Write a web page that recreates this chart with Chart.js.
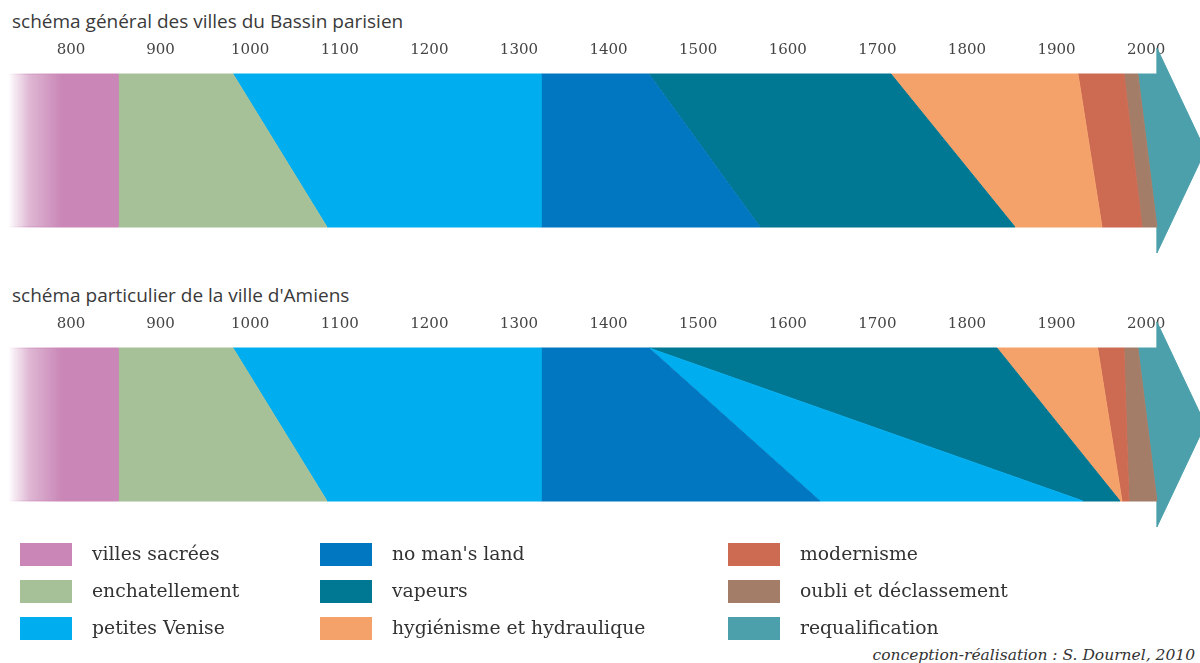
<!DOCTYPE html>
<html>
<head>
<meta charset="utf-8">
<script src="https://cdn.jsdelivr.net/npm/chart.js@4/dist/chart.umd.min.js"></script>
<style>
  html, body { margin: 0; padding: 0; background: #fff; }
  #page { position: relative; width: 1200px; height: 663px; overflow: hidden; }
  canvas { position: absolute; left: 0; }
  .title { position: absolute; left: 12px; font: 19px/19px "Open Sans", sans-serif; color: #3a3a3a; white-space: nowrap; }
  .sw { position: absolute; width: 52px; height: 23px; }
  .lab { position: absolute; font: 18.8px/18.8px "DejaVu Serif", serif; color: #333; white-space: nowrap; }
  #credit { position: absolute; right: 5px; top: 648px; font: italic 15.5px/15.5px "DejaVu Serif", serif; color: #333; }
</style>
</head>
<body>
<div id="page">
  <div class="title" style="top:12px">schéma général des villes du Bassin parisien</div>
  <canvas id="paris" width="1200" height="275" style="top:0"></canvas>
  <div class="title" style="top:286px">schéma particulier de la ville d'Amiens</div>
  <canvas id="amiens" width="1200" height="275" style="top:274px"></canvas>
  <div id="legend"></div>
  <div id="credit">conception-réalisation : S. Dournel, 2010</div>
</div>
<script>
// graduations (années)
const yearTicks = [800, 900, 1000, 1100, 1200, 1300, 1400, 1500, 1600, 1700, 1800, 1900, 2000];

// phases de la légende
const phaseNames = ['villes sacrées', 'enchatellement', 'petites Venise', "no man's land", 'vapeurs',
  'hygiénisme et hydraulique', 'modernisme', 'oubli et déclassement', 'requalification'];
const phaseColors = ['#c986b6', '#a6c197', '#00aeef', '#0077c0', '#007793',
  '#f5a26a', '#cc6a52', '#a37d68', '#4ca0ab'];

// Bassin parisien : limites des phases en haut et en bas de la bande
const parisPhases = [0, 1, 2, 3, 4, 5, 6, 7, 8];
const parisTop = [730, 852.5, 980.8, 1324.6, 1445.1, 1715.2, 1923.9, 1975.2, 1990.8, 2012];
const parisBottom = [730, 852.5, 1085.7, 1324.6, 1569, 1853.6, 1950.7, 1995.3, 2012, 2012];

// Amiens : les petites Venise reviennent apres le no man's land
const amiensPhases = [0, 1, 2, 3, 2, 4, 5, 6, 7, 8];
const amiensTop = [730, 852.5, 980.8, 1324.6, 1445.1, 1445.1, 1833.5, 1945.8, 1975.2, 1990.8, 2012];
const amiensBottom = [730, 852.5, 1085.7, 1324.6, 1635.9, 1929.5, 1970.8, 1973, 1980.8, 2012, 2012];

// fondu des villes sacrées, flèche finale
const fadeYears = [730, 790];
const arrowYears = [2012, 2066];
const arrowSpan = [-0.17, 1.17];

const pinkFade = (context) => {
  const chart = context.chart;
  if (!chart.chartArea) return phaseColors[0];
  const x = chart.scales.x;
  const g = chart.ctx.createLinearGradient(x.getPixelForValue(fadeYears[0]), 0, x.getPixelForValue(fadeYears[1]), 0);
  g.addColorStop(0, 'rgba(201,134,182,0)');
  g.addColorStop(0.4, 'rgba(201,134,182,0.6)');
  g.addColorStop(1, phaseColors[0]);
  return g;
};

const buildDatasets = (phases, tops, bottoms) => {
  return phases.map((cat, i) => {
    const pts = [
      { x: tops[i], y: 1 },
      { x: tops[i + 1], y: 1 }
    ];
    if (cat === 8 && i === phases.length - 1) {
      pts.push({ x: arrowYears[0], y: arrowSpan[1] });
      pts.push({ x: arrowYears[1], y: 0.5 });
      pts.push({ x: arrowYears[0], y: arrowSpan[0] });
    }
    pts.push({ x: bottoms[i + 1], y: 0 });
    pts.push({ x: bottoms[i], y: 0 });
    const color = cat === 0 ? pinkFade : phaseColors[cat];
    return {
      label: phaseNames[cat],
      data: pts,
      showLine: true,
      fill: 'shape',
      backgroundColor: color,
      borderColor: color,
      borderWidth: 1,
      pointRadius: 0,
      tension: 0
    };
  });
};

const createBand = (id, phases, tops, bottoms) => {
  const canvas = document.getElementById(id);
  return new Chart(canvas.getContext('2d'), {
    type: 'scatter',
    data: { datasets: buildDatasets(phases, tops, bottoms) },
    options: {
      responsive: false,
      animation: false,
      events: [],
      layout: { padding: 0 },
      plugins: { legend: { display: false }, tooltip: { enabled: false }, title: { display: false } },
      scales: {
        x: {
          type: 'linear',
          min: 720.8,
          max: 2060.1,
          position: { y: 1.215 },
          grid: { display: false, drawTicks: false },
          border: { display: false },
          afterBuildTicks: (scale) => { scale.ticks = yearTicks.map(v => ({ value: v })); },
          ticks: {
            padding: 0,
            maxRotation: 0,
            autoSkip: false,
            color: '#444',
            font: { family: 'DejaVu Serif', size: 15 },
            callback: (v) => String(v)
          }
        },
        y: { type: 'linear', display: false, min: -0.3137, max: 1.4837 }
      }
    }
  });
};

createBand('paris', parisPhases, parisTop, parisBottom);
createBand('amiens', amiensPhases, amiensTop, amiensBottom);

// légende en 3 colonnes
const legendCols = [20, 320, 728];
const legendRows = [543, 580, 617];
const legend = document.getElementById('legend');
phaseNames.forEach((name, i) => {
  const col = Math.floor(i / 3);
  const row = i % 3;
  const sw = document.createElement('div');
  sw.className = 'sw';
  sw.style.left = legendCols[col] + 'px';
  sw.style.top = legendRows[row] + 'px';
  sw.style.background = phaseColors[i];
  legend.appendChild(sw);
  const lab = document.createElement('div');
  lab.className = 'lab';
  lab.textContent = name;
  lab.style.left = (legendCols[col] + 72) + 'px';
  lab.style.top = (legendRows[row] + 2) + 'px';
  legend.appendChild(lab);
});
</script>
</body>
</html>
